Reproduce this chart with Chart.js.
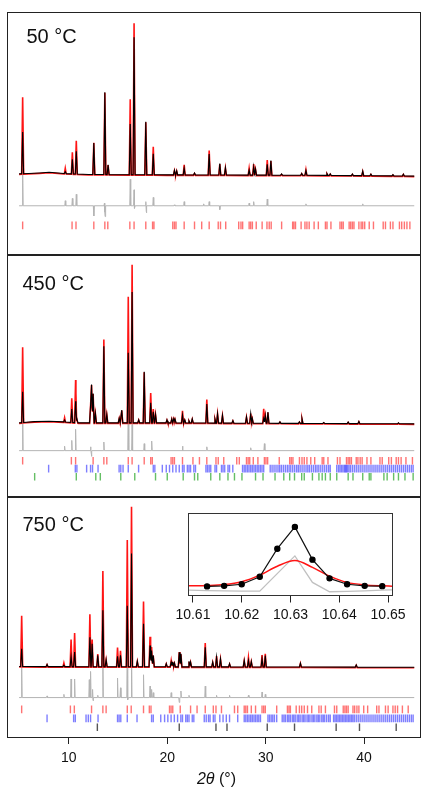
<!DOCTYPE html>
<html><head><meta charset="utf-8">
<script src="https://cdn.jsdelivr.net/npm/chart.js@4/dist/chart.umd.min.js"></script>
<style>
html,body{margin:0;padding:0;background:#fff}
body{width:421px;height:787px;position:relative;overflow:hidden;font-family:"Liberation Sans",Arial,Helvetica,sans-serif;color:#111}
.abs{position:absolute}
.frame{position:absolute;box-sizing:border-box;border:1.5px solid #222;pointer-events:none}
.div{position:absolute;background:#222;height:1.5px}
.lbl{position:absolute;font-size:20px;line-height:20px;white-space:nowrap}
</style></head><body>
<canvas id="c1" class="abs" style="left:8px;top:13px" width="412" height="242"></canvas>
<canvas id="c2" class="abs" style="left:8px;top:255px" width="412" height="242"></canvas>
<canvas id="c3" class="abs" style="left:8px;top:497px" width="412" height="290"></canvas>
<div class="abs" style="left:188.5px;top:513.5px;width:204px;height:82.5px;background:#fff"></div>
<canvas id="c4" class="abs" style="left:169px;top:514px" width="243" height="112"></canvas>
<div class="frame" style="left:7.25px;top:12.25px;width:413.5px;height:725.5px"></div>
<div class="div" style="left:7.25px;top:254.25px;width:413.5px"></div>
<div class="div" style="left:7.25px;top:496.25px;width:413.5px"></div>
<div class="frame" style="left:188.25px;top:513.25px;width:204.5px;height:83px;border-color:#333"></div>
<div class="lbl" style="left:26.5px;top:26px">50 °C</div>
<div class="lbl" style="left:22.5px;top:273px">450 °C</div>
<div class="lbl" style="left:22.5px;top:513.5px">750 °C</div>
<div class="abs" style="left:0;width:433px;top:771px;text-align:center;font-size:16px;line-height:16px"><i>2θ</i> (°)</div>
<script>
// ---------- axis ----------
const xTicks = [10, 20, 30, 40];
const insetTicks = [10.61, 10.62, 10.63, 10.64, 10.65];

// ---------- 50 °C ----------
const p1PeakPos = [5.31, 9.64, 10.36, 10.76, 12.54, 13.66, 13.99, 16.24, 16.63, 17.82, 18.58, 20.73, 20.96, 21.72, 22.77, 24.26, 25.34, 25.91, 28.32, 28.78, 28.97, 30.16, 30.53, 31.62, 33.66, 34.09, 36.23, 36.56, 38.81, 39.86, 40.69, 42.93, 43.99];
const p1Obs = [80.3, 6, 23, 35.3, 33.7, 86, 10.3, 79.3, 158.7, 55.3, 29.7, 4.7, 4.3, 11, 2, 26, 12, 7.7, 7.7, 12, 6.3, 16.3, 15.3, 1.3, 2, 6.3, 2, 1.7, 1.7, 4.7, 1.7, 1.3, 2];
const p1Calc = [43.7, 2, 15.3, 23.7, 33, 86, 10.3, 53, 143.7, 55.3, 22, 4.7, 4.3, 7, 2, 22, 12, 7.7, 5.3, 8.7, 6.3, 11.3, 15.3, 1.3, 2, 5, 2, 1.7, 1.7, 4.7, 1.7, 1.3, 2];
const p1BgPos = [4.95, 7.0, 8.0, 9.5, 12, 20, 30, 37, 45.1];
const p1BgVal = [1.3, 2.3, 3, 1.7, 0.7, 0.3, 0, -0.3, -1];
const p1DiffPos = [5.31, 9.64, 10.36, 10.76, 12.54, 13.62, 13.69, 16.24, 16.63, 16.69, 17.82, 17.88, 18.58, 20.73, 21.72, 23.7, 24.26, 25.34, 28.32, 28.78, 30.16, 34.09, 39.86];
const p1DiffVal = [38.7, 5.3, 7.7, 12, -10.7, 2.7, -11.3, 27.7, 16.7, -2.7, 4.3, -7.3, 8.7, 1, 4.3, 2, 4.3, -4, 2.7, 4.3, 7, 2, 2];
const p1HklRed = [5.31, 10.33, 10.73, 12.54, 13.66, 13.96, 16.20, 16.63, 17.82, 18.51, 18.65, 20.56, 20.73, 20.89, 21.72, 22.77, 23.50, 24.26, 25.18, 25.41, 25.94, 27.26, 27.49, 27.66, 28.32, 28.48, 28.65, 29.04, 29.64, 30.13, 30.36, 30.56, 31.62, 32.74, 32.87, 33.03, 33.60, 33.99, 34.19, 34.42, 34.92, 35.35, 36.07, 36.23, 36.63, 37.55, 37.72, 37.88, 38.48, 38.64, 38.81, 38.97, 39.47, 39.70, 39.86, 40.06, 40.52, 40.95, 41.94, 42.17, 42.67, 42.93, 43.59, 43.82, 44.09, 44.35, 44.65];

// ---------- 450 °C ----------
const p2PeakPos = [5.31, 9.57, 10.30, 10.69, 10.82, 12.21, 12.31, 12.47, 12.70, 13.56, 13.86, 15.12, 15.38, 16.04, 16.43, 17.10, 17.66, 18.32, 18.58, 18.81, 19.97, 20.46, 20.66, 20.79, 21.55, 21.78, 22.21, 22.54, 24.02, 24.85, 25.11, 25.61, 26.67, 28.05, 28.48, 28.64, 29.80, 29.96, 30.23, 31.45, 33.43, 33.69, 35.90, 38.38, 39.47, 43.49];
const p2Obs = [79.3, 5, 25.7, 45, 4.3, 18.3, 40, 30.7, 10, 87.7, 9, 5, 13.3, 132.3, 165.7, 3.3, 53.3, 31.7, 15, 9, 3.3, 4.3, 4.3, 4, 13.3, 3.3, 2.3, 4.3, 25, 4.3, 10, 8.3, 2.7, 6.7, 10.7, 5, 15.7, 8.3, 11.7, 1.7, 1.7, 5, 1, 1.7, 2.3, 1];
const p2Calc = [32.3, 2, 14, 22.3, 4.3, 18.3, 40, 30.7, 10, 80, 9, 5, 13.3, 73.3, 136.7, 3.3, 53.3, 21, 11.7, 9, 3.3, 4.3, 4.3, 4, 8.3, 3.3, 2.3, 4.3, 20, 4.3, 10, 8.3, 2.7, 6.7, 10, 5, 5, 8.3, 11.7, 1.7, 1.7, 5, 1, 1.7, 2.3, 1];
const p2BgPos = [4.95, 6.5, 8.0, 9.5, 11, 20, 45.1];
const p2BgVal = [0, 1.3, 1.7, 1, 0, 0, -1];
const p2DiffPos = [5.31, 9.57, 10.30, 10.69, 12.21, 12.30, 13.56, 16.04, 16.43, 17.66, 18.42, 21.55, 24.02, 28.48, 29.87];
const p2DiffVal = [47, 4.7, 10.7, 22.3, 4, -6, 9, 57.3, 27.3, 7.3, 10, 4.7, 4, 3, 7.3];
const p2HklRed = [5.31, 10.26, 10.69, 12.47, 13.56, 13.86, 16.04, 16.43, 17.66, 18.32, 18.48, 20.39, 20.56, 20.73, 21.55, 22.61, 23.27, 24.02, 24.95, 25.18, 25.74, 27.06, 27.32, 28.05, 28.22, 28.38, 28.74, 29.21, 29.87, 30.03, 30.20, 31.38, 32.44, 32.60, 32.77, 33.43, 33.69, 33.92, 34.19, 34.58, 34.98, 35.74, 35.90, 36.33, 37.29, 37.55, 38.21, 38.38, 38.54, 38.71, 39.20, 39.37, 39.60, 39.80, 40.29, 40.69, 41.61, 41.84, 42.50, 42.77, 43.26, 43.49, 43.76, 44.25, 44.91];
const p2HklBlue = [7.95, 10.66, 10.82, 11.81, 12.21, 12.41, 12.97, 15.11, 15.28, 15.51, 16.04, 17.09, 18.58, 18.74, 19.50, 19.90, 20.23, 20.56, 20.89, 21.22, 21.55, 21.71, 22.04, 22.21, 22.37, 22.70, 22.87, 23.93, 24.09, 24.26, 24.42, 24.85, 25.01, 25.51, 25.67, 25.84, 26.17, 26.33, 26.66, 27.65, 27.82, 27.98, 28.15, 28.31, 28.48, 28.64, 28.81, 28.97, 29.14, 29.30, 29.47, 29.63, 29.80, 30.46, 30.65, 30.85, 31.05, 31.25, 31.42, 31.60, 31.80, 32.00, 32.20, 32.38, 32.55, 32.75, 32.95, 33.15, 33.32, 33.50, 33.70, 33.90, 34.10, 34.28, 34.45, 34.65, 34.85, 35.05, 35.22, 35.40, 35.60, 35.80, 36.00, 36.20, 36.40, 36.56, 37.22, 37.40, 37.55, 37.70, 37.85, 38.00, 38.10, 38.20, 38.30, 38.45, 38.60, 38.80, 39.00, 39.20, 39.40, 39.60, 39.80, 40.00, 40.20, 40.40, 40.60, 40.80, 41.00, 41.20, 41.40, 41.60, 41.80, 42.00, 42.20, 42.40, 42.60, 42.80, 43.00, 43.20, 43.40, 43.60, 43.80, 44.00, 44.20, 44.40, 44.60, 44.80, 44.98];
const p2HklGreen = [6.53, 10.76, 12.74, 13.20, 15.28, 16.70, 18.81, 20.00, 21.62, 22.77, 23.10, 24.42, 25.34, 26.17, 26.83, 27.59, 28.97, 29.73, 30.95, 31.84, 32.44, 32.93, 33.66, 33.92, 34.75, 35.41, 35.74, 36.07, 36.56, 37.22, 38.38, 38.87, 39.86, 40.52, 40.69, 42.01, 42.34, 43.00, 43.49, 44.15, 44.98];

// ---------- 750 °C ----------
const p3PeakPos = [5.21, 7.79, 9.50, 10.23, 10.59, 12.14, 12.37, 12.94, 13.46, 13.79, 14.95, 15.25, 15.94, 16.37, 16.96, 17.59, 18.25, 18.41, 18.58, 19.90, 20.40, 20.56, 20.73, 21.22, 21.39, 22.21, 22.37, 23.86, 24.62, 25.01, 25.41, 26.33, 27.82, 28.25, 28.54, 29.63, 29.96, 33.53, 39.20];
const p3Obs = [52.3, 2.3, 4.3, 28.3, 35, 54, 28.3, 13.3, 98.3, 7.3, 20, 16.7, 130, 164, 5.7, 67.3, 31.3, 20.7, 11.7, 3.3, 6.7, 5, 4, 15.7, 13.3, 5.7, 5, 25, 5, 11.7, 8.3, 3.3, 6.7, 10, 5.7, 12.7, 14, 4, 2.3];
const p3Calc = [18.3, 2.3, 1.5, 10, 15, 30, 23.3, 11.7, 57.7, 7.3, 10.7, 11.7, 62.3, 115.7, 5.7, 44, 21.7, 16.7, 11.7, 3.3, 5, 5, 4, 15, 13.3, 5.7, 5, 20, 5, 10, 8.3, 3.3, 6.7, 6.7, 5.7, 8.3, 11.7, 4, 2.3];
const p3BgPos = [4.95, 45.1];
const p3BgVal = [0, -0.7];
const p3DiffPos = [5.21, 7.79, 9.50, 10.23, 10.59, 12.08, 12.21, 12.41, 12.47, 12.94, 13.46, 14.95, 15.25, 15.94, 16.00, 16.37, 17.59, 18.25, 18.41, 18.58, 20.40, 21.22, 21.39, 22.21, 23.86, 25.01, 26.33, 28.25, 29.63, 29.96];
const p3DiffVal = [31.7, 1.7, 3.3, 19, 19, 18.3, 26.7, 8.3, -3.3, 2.3, 40.6, 20, 10, 66, -2.3, 55, 23.3, 11.7, 8.3, 5, 5, -5, 6.7, 2.3, 11.7, 2.3, 2.3, 2.3, 5.7, 3.3];
const p3HklRed = [5.21, 10.16, 10.56, 12.31, 13.46, 13.79, 15.94, 16.34, 17.59, 18.18, 18.35, 20.23, 20.39, 20.56, 21.32, 22.37, 23.03, 23.86, 24.68, 24.95, 25.51, 26.83, 27.16, 27.82, 27.98, 28.15, 28.54, 28.97, 29.63, 29.80, 29.96, 31.12, 32.21, 32.37, 32.51, 33.10, 33.43, 33.66, 33.92, 34.25, 34.68, 35.41, 35.64, 36.07, 36.99, 37.22, 37.88, 38.05, 38.21, 38.38, 38.87, 39.04, 39.27, 39.47, 39.96, 40.36, 41.28, 41.51, 42.17, 42.44, 42.93, 43.16, 43.40, 43.89, 44.48];
const p3HklBlue = [7.79, 10.49, 10.66, 11.75, 11.98, 12.21, 12.97, 14.95, 15.11, 15.28, 15.94, 16.93, 18.41, 18.58, 19.34, 19.73, 20.06, 20.39, 20.72, 21.05, 21.38, 21.55, 21.88, 22.04, 22.21, 22.54, 22.70, 23.76, 23.96, 24.19, 24.35, 24.68, 24.85, 25.34, 25.67, 26.00, 26.33, 27.16, 27.82, 27.98, 28.15, 28.31, 28.48, 28.64, 28.81, 28.97, 29.14, 29.30, 29.47, 30.23, 30.39, 30.56, 30.72, 30.89, 31.12, 31.68, 31.85, 32.00, 32.20, 32.35, 32.50, 32.70, 32.85, 33.00, 33.20, 33.35, 33.50, 33.70, 33.85, 34.00, 34.20, 34.35, 34.50, 34.70, 34.85, 35.00, 35.20, 35.35, 35.50, 35.70, 35.85, 36.00, 36.20, 36.40, 36.56, 36.90, 37.05, 37.20, 37.35, 37.50, 37.65, 37.80, 37.95, 38.10, 38.25, 38.40, 38.55, 38.70, 38.85, 39.00, 39.20, 39.40, 39.60, 39.80, 40.00, 40.20, 40.40, 40.60, 40.80, 41.00, 41.20, 41.40, 41.60, 41.80, 42.00, 42.20, 42.40, 42.60, 42.80, 43.00, 43.20, 43.40, 43.60, 43.80, 44.00, 44.20, 44.40, 44.60, 44.80, 44.98];
const p3HklDark = [12.90, 21.22, 24.95, 26.07, 30.16, 32.93, 37.16, 39.53, 43.26];

// ---------- inset (750 °C, peak near 10.63°) ----------
const insetObsPos = [10.6129, 10.6164, 10.6200, 10.6237, 10.6273, 10.6309, 10.6345, 10.6380, 10.6416, 10.6452, 10.6488];
const insetObs = [9.7, 10.3, 12, 20, 50, 73.3, 38.3, 18.3, 12, 10.3, 10];
const insetCalcPos = [10.6092, 10.6129, 10.6164, 10.6200, 10.6237, 10.6273, 10.6309, 10.6345, 10.6380, 10.6416, 10.6452, 10.6488, 10.6508];
const insetCalc = [10.3, 10.7, 11.7, 14.7, 21.7, 31.3, 37.3, 30, 20.7, 14, 11.3, 10.3, 10];
const insetDiffPos = [10.6092, 10.6129, 10.6164, 10.6200, 10.6237, 10.6309, 10.6345, 10.6380, 10.6416, 10.6452, 10.6488, 10.6508];
const insetDiff = [5.7, 5.3, 5, 4.7, 4.7, 42.3, 14, 4, 4.3, 5, 5.7, 6];

// ---------- rendering helpers ----------
const FONT = '"Liberation Sans", Arial, Helvetica, sans-serif';
const RED = 'rgb(255,20,20)', BLACK = '#000', GREY = '#b4b4b4';
const X_MIN = 4.35, X_MAX = 45.15;

function bgAt(x, bp, bv) {
  if (x <= bp[0]) return bv[0];
  for (let i = 1; i < bp.length; i++) {
    if (x <= bp[i]) { const t = (x - bp[i-1]) / (bp[i] - bp[i-1]); return bv[i-1] + t * (bv[i] - bv[i-1]); }
  }
  return bv[bv.length - 1];
}
// trace of narrow peaks (triangular profile) sitting on a background line
function trace(pos, h, hw, bp, bv, offset, x0, x1) {
  const xs = new Set([x0, x1].concat(bp || []));
  pos.forEach(p => { xs.add(+(p - hw).toFixed(4)); xs.add(p); xs.add(+(p + hw).toFixed(4)); });
  const arr = [...xs].filter(x => x >= x0 && x <= x1).sort((a, b) => a - b);
  return arr.map(x => {
    let y = offset + (bp ? bgAt(x, bp, bv) : 0);
    pos.forEach((p, i) => { const d = Math.abs(x - p); if (d < hw) y += h[i] * (1 - d / hw); });
    return { x, y };
  });
}
function lineDs(data, color, width, order) {
  return { data, borderColor: color, borderWidth: width, pointRadius: 0, tension: 0, fill: false, order, borderJoinStyle: 'miter' };
}
function tickDs(pos, yv, color) {
  return { data: pos.map(p => ({ x: p, y: yv })), showLine: false, pointStyle: 'line', pointRotation: 90,
    pointRadius: 3.8, pointHoverRadius: 3.8, pointBorderWidth: 1.4, pointBorderColor: color, borderColor: color, order: 5 };
}
function panel(id, datasets, yMin, yMax, withAxis) {
  const xScale = { type: 'linear', min: X_MIN, max: X_MAX, display: !!withAxis,
    afterBuildTicks: s => { s.ticks = xTicks.map(v => ({ value: v })); },
    grid: { display: true, drawOnChartArea: false, drawTicks: true, tickLength: 7, color: '#222', lineWidth: 1 },
    border: { display: false },
    ticks: { font: { family: FONT, size: 14 }, color: '#111', padding: 6, maxRotation: 0 } };
  if (withAxis) xScale.afterFit = s => { s.height = 50; s.paddingLeft = 0; s.paddingRight = 0; };
  return new Chart(document.getElementById(id), {
    type: 'line',
    data: { datasets },
    options: {
      responsive: false, devicePixelRatio: 1, animation: false, events: [],
      layout: { padding: 0 },
      plugins: { legend: { display: false }, tooltip: { enabled: false } },
      scales: { x: xScale, y: { type: 'linear', min: yMin, max: yMax, display: false } }
    }
  });
}
const HW = 0.1, DHW = 0.05, X0 = 4.95, X1 = 45.1;
const TRED = 'rgba(255,40,40,0.65)', TBLUE = 'rgba(40,40,255,0.6)', TGREEN = 'rgba(50,170,50,0.75)';

// panel 1
panel('c1', [
  lineDs(trace(p1PeakPos, p1Calc, HW, p1BgPos, p1BgVal, 0, X0, X1), BLACK, 1.1, 0),
  lineDs(trace(p1PeakPos, p1Obs, HW, p1BgPos, p1BgVal, -0.5, X0, X1), RED, 1.6, 1),
  lineDs(trace(p1DiffPos, p1DiffVal, DHW, null, null, -32, X0, X1), GREY, 1, 2),
  tickDs(p1HklRed, -52.5, TRED)
], -78, 164, false);

// panel 2
panel('c2', [
  lineDs(trace(p2PeakPos, p2Calc, HW, p2BgPos, p2BgVal, 0, X0, X1), BLACK, 1.1, 0),
  lineDs(trace(p2PeakPos, p2Obs, HW, p2BgPos, p2BgVal, -0.5, X0, X1), RED, 1.6, 1),
  lineDs(trace(p2DiffPos, p2DiffVal, DHW, null, null, -29, X0, X1), GREY, 1, 2),
  tickDs(p2HklRed, -39.5, TRED),
  tickDs(p2HklBlue, -47.8, TBLUE),
  tickDs(p2HklGreen, -56.3, TGREEN)
], -72, 170, false);

// panel 3
panel('c3', [
  lineDs(trace(p3PeakPos, p3Calc, HW, p3BgPos, p3BgVal, 0, X0, X1), BLACK, 1.1, 0),
  lineDs(trace(p3PeakPos, p3Obs, HW, p3BgPos, p3BgVal, -0.5, X0, X1), RED, 1.6, 1),
  lineDs(trace(p3DiffPos, p3DiffVal, DHW, null, null, -31.7, X0, X1), GREY, 1, 2),
  tickDs(p3HklRed, -43.8, TRED),
  tickDs(p3HklBlue, -53, TBLUE),
  tickDs(p3HklDark, -62, '#555')
], -72, 168, true);

// inset
new Chart(document.getElementById('c4'), {
  type: 'line',
  data: { datasets: [
    { data: insetObsPos.map((x, i) => ({ x, y: insetObs[i] })), borderColor: '#111', borderWidth: 1.2, pointRadius: 2.6,
      pointBackgroundColor: '#000', pointBorderColor: '#000', tension: 0, order: 0 },
    { data: insetCalcPos.map((x, i) => ({ x, y: insetCalc[i] })), borderColor: RED, borderWidth: 1.5, pointRadius: 0,
      tension: 0.4, cubicInterpolationMode: 'monotone', order: 1 },
    { data: insetDiffPos.map((x, i) => ({ x, y: insetDiff[i] })), borderColor: '#c0c0c0', borderWidth: 1.3, pointRadius: 0,
      tension: 0, order: 2 }
  ] },
  options: {
    responsive: false, devicePixelRatio: 1, animation: false, events: [],
    layout: { padding: { left: 20, right: 20, top: 0, bottom: 0 } },
    plugins: { legend: { display: false }, tooltip: { enabled: false } },
    scales: {
      x: { type: 'linear', min: 10.6092, max: 10.6508,
        afterBuildTicks: s => { s.ticks = insetTicks.map(v => ({ value: v })); },
        afterFit: s => { s.height = 30.5; s.paddingLeft = 0; s.paddingRight = 0; },
        grid: { display: true, drawOnChartArea: false, drawTicks: true, tickLength: 7, color: '#222', lineWidth: 1 },
        border: { display: false },
        ticks: { font: { family: FONT, size: 14 }, color: '#111', padding: 4, maxRotation: 0,
          callback: v => v.toFixed(2) } },
      y: { type: 'linear', min: 0, max: 81.5, display: false }
    }
  }
});
</script>
</body></html>
